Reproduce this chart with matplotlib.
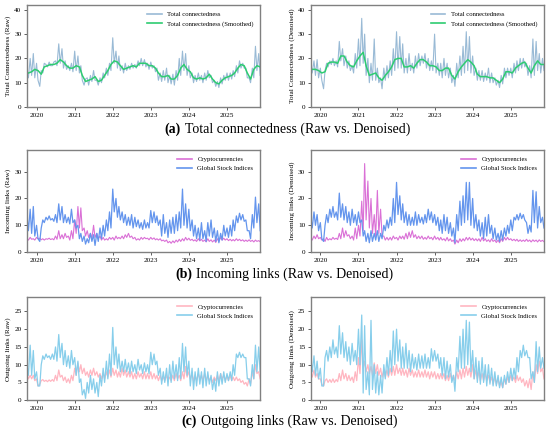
import matplotlib
matplotlib.use("Agg")
import matplotlib.pyplot as plt
import matplotlib.dates as mdates
import pandas as pd
from matplotlib.offsetbox import TextArea, HPacker, AnnotationBbox

plt.rcParams['font.family'] = ['Liberation Serif', 'DejaVu Serif']

# two readings per month (1st / 15th), Oct 2019 .. Nov 2025
half_month = pd.date_range('2019-10-01', periods=148, freq='SMS')
# smoothed curves read once per month
month_mid = pd.date_range('2019-10-01', periods=74, freq='MS') + pd.Timedelta(days=14)

# (a) total connectedness
total_raw = [16, 12, 20, 13, 22, 12, 18, 11, 8.5, 15, 14, 18,
             17.5, 16.5, 18.5, 17, 17, 18.5, 19, 17, 26, 18, 24, 16,
             19, 15.5, 17, 15, 18, 14.5, 23, 15, 21, 14, 17, 11,
             9, 11.5, 12, 9, 13, 10.5, 15, 11, 11, 9, 12, 10,
             14, 12, 16, 13, 18, 15, 28.5, 18, 23, 16, 21, 15,
             17, 14, 18, 15, 17, 15.5, 18, 16, 17.5, 16, 19, 17,
             20, 17, 19.5, 16.5, 18, 15.5, 18.5, 16, 17, 14.5, 16, 11,
             14, 10.5, 15, 11, 16, 10, 13, 9.5, 13.5, 9, 15, 11,
             20, 13, 23, 15, 22, 13, 17, 12, 14, 10, 13, 10.5,
             14, 11, 13, 10, 14, 11, 15, 12, 13, 10, 11, 8.5,
             10.5, 8, 12, 9.5, 13, 11, 14, 11, 14, 11.5, 15, 12.5,
             17, 14, 19, 16, 18, 16, 16, 12, 12, 10, 16, 12,
             25, 15, 22, 13]
total_raw_smooth = [14, 14.5, 15.5, 15, 13.5, 16.5, 17, 17.5, 17.5, 18, 19.5, 18.5,
                    17, 16, 16, 17, 16.5, 13, 10.5, 11, 11.5, 12.5, 10.5, 11,
                    13, 15, 17.5, 19, 18.5, 17, 15.5, 16, 16.5, 17, 16.5, 18,
                    18, 18, 17, 17, 16, 14, 12.5, 12.5, 13, 11.5, 11.5, 13,
                    16, 17.5, 15.5, 14.5, 12, 11.5, 12, 11.5, 12, 13.5, 11.5, 10,
                    9.5, 11, 12, 12.5, 13, 14, 16, 17.5, 17, 14, 11.5, 15.5,
                    17, 16.5]
total_den = [17, 14, 19, 13, 19.5, 12, 16, 11, 7.5, 15, 18, 16.5,
             19, 17.5, 20, 17, 19, 16.5, 27, 19, 24, 17, 21, 16,
             19, 15, 17, 14, 22, 16, 28, 17, 36.5, 18, 30, 13,
             20, 10, 18, 11, 28, 11, 16, 10, 12, 7.5, 16, 11,
             17, 12, 19, 13, 24, 15, 31, 16, 29, 16, 26, 14,
             20, 14, 22, 15, 18, 14, 21, 16, 22, 17, 21, 18,
             22, 16, 20, 15, 19, 15, 30, 14, 18, 13, 18, 12,
             20, 13, 18, 12, 16, 10, 13, 8.5, 18, 12, 21, 13,
             25, 14, 31, 15, 29, 14, 21, 13, 16, 11, 15, 11,
             15, 10.5, 14, 11, 16, 10, 14, 10, 12, 9, 11, 8,
             13, 9.5, 16, 12, 16, 13, 16, 12, 18, 14, 19, 15,
             20, 16, 20, 16.5, 18, 13, 17, 12, 28, 13, 27, 15,
             22, 14, 20, 15]
total_den_smooth = [15.5, 15.5, 15, 14, 14.5, 18, 18.5, 18.5, 18, 21, 21, 18.5,
                    17, 16.5, 19, 21, 22.5, 17, 13, 13.5, 14, 12, 11, 13,
                    14.5, 16.5, 19.5, 20, 20, 16.5, 16.5, 17, 16, 18, 19.5, 19.5,
                    18.5, 17, 17, 16.5, 15, 15, 16, 16, 13, 11.5, 14.5, 16.5,
                    18, 19.5, 18.5, 17, 13.5, 12.5, 12.5, 12.5, 12, 12, 11, 10,
                    11.5, 14.5, 14.5, 14, 16, 17, 18, 18.5, 16, 14, 17, 19,
                    17.5, 17.5]

# (b) incoming links
in_crypto_raw = [5, 4.5, 5.5, 4.8, 5, 4.5, 5.5, 5, 5.2, 4.6, 5, 4.5,
                 5, 4.8, 5.2, 4.7, 5, 4.6, 6, 4.8, 8, 5, 6.5, 5,
                 7, 5.5, 6, 4.5, 8, 5, 12, 7, 17, 9, 16.5, 8,
                 9, 6, 8, 5.5, 7, 5, 10, 5.5, 7, 5, 6, 4.5,
                 5.5, 4.5, 5, 4.5, 5.5, 4.8, 5.5, 4.5, 6, 5, 5.5, 5,
                 6, 5, 6.5, 5.5, 7, 5.5, 6, 5, 5.5, 4.5, 5, 4.5,
                 5.5, 4.8, 5.5, 5, 5.2, 4.6, 5.5, 4.8, 5.3, 4.6, 5, 4.5,
                 5, 4.2, 4.5, 4, 4.5, 3.5, 4, 3.3, 4.2, 3.5, 4.5, 3.8,
                 4.8, 4, 5, 4.2, 5.5, 4.5, 5.2, 4.4, 4.8, 4.2, 4.6, 4,
                 5, 4.2, 4.8, 4, 4.5, 3.8, 5, 4, 4.6, 3.8, 4.5, 3.6,
                 5, 4, 5.5, 4.5, 5.2, 4.5, 5, 4.3, 4.8, 4.2, 4.7, 4.2,
                 5, 4.3, 4.8, 4.2, 4.6, 4, 4.5, 4, 4.6, 4, 4.4, 3.8,
                 4.5, 4, 4.3, 3.9]
in_stock_raw = [14, 8, 16, 7, 17, 6, 10, 5, 4, 9, 12, 11,
                13, 12, 13.5, 12, 12.5, 11.5, 14, 11, 18, 12, 17, 11,
                14, 11, 13, 10.5, 16, 11, 12, 9, 10, 5, 7, 4,
                6, 3, 5, 3.5, 7, 4, 6.5, 2.5, 7, 4, 9, 5,
                10, 6, 12, 8, 15, 9, 23.5, 15, 20, 13, 17, 12,
                15, 11, 14, 10, 13, 10, 14, 9, 13, 9.5, 12, 9,
                11, 8.5, 12, 9, 11, 9, 15.5, 11, 15, 11, 13.5, 10,
                12, 6, 14, 7, 11, 5.5, 12, 7, 13, 7, 14, 8,
                15, 9, 23.5, 10, 18, 9, 16, 8, 12, 6, 10, 5,
                9, 4.5, 11, 5, 8, 4, 11, 6, 12, 5.5, 9, 4,
                8, 3.5, 7, 4.5, 10, 6, 9, 5.5, 10, 6, 12, 8,
                13.5, 11, 14.5, 12, 14, 11.5, 12, 8, 8, 5, 14, 9,
                20.5, 11, 18, 8]
in_crypto_den = [5.5, 4.5, 6, 5, 6.5, 5, 5.5, 4.5, 5, 4, 5.5, 4.5,
                 5, 4.6, 5.5, 4.8, 5.2, 4.7, 7, 5, 9, 5.5, 8, 6,
                 6.5, 5, 6, 4.5, 9, 5, 10, 6, 19, 8, 33, 12,
                 26.5, 9, 20, 7, 14, 6, 23, 7, 16, 6, 6, 4.5,
                 5.5, 4.5, 5.5, 4.5, 6, 5, 5.5, 4.5, 6, 5, 6, 4.8,
                 7, 5, 7.5, 5.5, 8, 5.5, 6.5, 5, 6, 5, 6, 4.8,
                 5.5, 4.8, 6, 5, 5.5, 4.6, 6, 4.8, 5.5, 4.5, 5.5, 4.5,
                 5, 4.2, 5.5, 4.2, 5, 4, 4.5, 3, 4.5, 3.5, 5, 4,
                 5, 4.2, 5.5, 4.5, 5.5, 4.5, 5.2, 4.3, 5, 4.2, 5, 4,
                 5.5, 4.2, 5, 4, 4.6, 3.8, 5, 4, 4.5, 3.6, 4.5, 3.5,
                 5, 4, 5.5, 4.5, 5.5, 4.6, 5, 4.3, 4.8, 4.2, 4.8, 4,
                 4.6, 4, 4.5, 4, 4.8, 4, 4.5, 3.8, 4.6, 4, 4.5, 3.8,
                 4.6, 4, 4.4, 3.9]
in_stock_den = [13, 9, 15, 10, 14, 8, 11, 5, 4, 10, 14, 11,
                16, 13, 17, 13, 15, 12, 22, 13, 18, 12, 17, 11,
                15, 10, 16, 11, 14, 10, 15, 11, 12, 6, 8, 4,
                7, 3.5, 8, 4, 7, 4.5, 8, 4, 7, 5, 10, 8,
                12, 9, 13, 10, 20, 11, 26, 14, 21, 12, 18, 11,
                15, 10, 14, 10, 13, 10, 15, 10, 14, 11, 13, 10.5,
                14, 11, 16, 12, 15, 11, 14, 10, 13, 8, 12, 7,
                14, 8, 13, 7, 11, 6, 9, 3.5, 14, 8, 19, 10,
                21, 11, 26, 12, 26, 10, 20, 9, 14, 8, 12, 6,
                11, 5, 13, 6, 14, 7, 10, 5, 9, 4.5, 7, 4,
                8, 4.5, 9, 6, 10, 7, 12, 8, 13, 12, 14, 12,
                14.5, 12.5, 14, 12, 11, 7, 10, 7.5, 23, 11, 22.5, 9,
                17, 11, 13, 9]

# (c) outgoing links
out_crypto_raw = [7.5, 6, 7, 6, 7, 5.5, 6, 4, 4.5, 5.5, 5.8, 5.3,
                  5.6, 5.2, 5.7, 5.3, 5.8, 5.3, 7, 5.5, 8.5, 6.5, 7, 5.5,
                  6.5, 5, 6, 4.8, 7, 5.5, 9, 7, 10.5, 8, 10, 7.5,
                  9, 7, 8, 6.5, 8.5, 7, 9, 7, 8, 6.5, 7.5, 6,
                  7.5, 6, 8, 6.5, 8.5, 6.5, 9, 7, 8.5, 6.5, 8, 6.5,
                  9, 7, 8.5, 6.5, 8, 6.5, 8, 6, 7.5, 6, 8, 6.5,
                  7.5, 6, 8, 6, 7.5, 6, 8, 6, 7.5, 6, 7, 5.5,
                  7, 5.5, 6.5, 5.5, 7, 5.5, 6.5, 5.5, 7, 5.5, 7.5, 6,
                  7, 5.5, 8, 6, 9.5, 6.5, 8, 6, 7.5, 5.5, 7, 5.5,
                  7.5, 6, 7, 5.5, 7.5, 5.5, 7, 5.5, 6.5, 5, 6.5, 5.5,
                  7, 5.5, 7.5, 6, 7, 5.5, 7, 5.5, 7, 5.5, 6.5, 5.5,
                  6.5, 5.5, 6, 5, 5.5, 4.5, 5, 4, 6, 4.5, 8, 6,
                  10, 7.5, 8, 6]
out_stock_raw = [10, 7, 15.5, 7, 14, 6, 8, 4, 4, 10, 12.5, 11.5,
                 13, 12, 12.5, 11.5, 13, 11.5, 15, 11, 18.5, 12, 16, 10,
                 14, 9.5, 12.5, 9, 14, 10, 12, 7, 11, 5, 6, 1.5,
                 3, 0.5, 5, 2, 7, 3, 6, 2, 5, 1, 7, 4,
                 9, 5, 11, 6, 13, 7, 20.5, 10, 15, 9, 13, 8,
                 11, 8, 11.5, 8, 10.5, 7.5, 11, 8, 10, 7.5, 11.5, 8.5,
                 10, 7.5, 10.5, 8, 10, 7.5, 13.5, 10, 13, 10, 11, 7,
                 9, 4.5, 8, 5, 9, 4, 10, 5, 11, 6, 10, 5.5,
                 12, 6, 16, 8, 15, 7, 11, 4, 9, 3, 8, 4,
                 9, 4.5, 8, 3.5, 9, 4, 8, 4.5, 7, 3, 6, 2.5,
                 8, 4, 7.5, 4.5, 8, 5, 7.5, 5.5, 8, 5.5, 10, 7,
                 13, 12, 13.5, 12, 13, 12, 12, 6, 6, 4, 10, 6,
                 15.5, 8, 15, 8]
out_crypto_den = [8, 6.5, 8.5, 6.5, 7.5, 6, 6, 4.5, 4, 5.5, 6, 5,
                  5.8, 5, 6, 5, 5.8, 5.2, 7.5, 5.5, 8.5, 6, 7.5, 5.5,
                  7, 5.5, 6.5, 5, 8, 5.5, 12, 7.5, 17, 9, 11, 8,
                  10, 7.5, 9.5, 7, 10.5, 7.5, 10, 7, 9, 6.5, 8.5, 6.5,
                  8.5, 6.5, 9, 7, 9.5, 7, 10, 7.5, 9, 7, 9, 7,
                  8.5, 6.5, 9, 7, 8.5, 6.5, 8, 6.5, 8.5, 6.5, 8, 6.5,
                  8.5, 6.5, 8, 6, 8, 6.5, 8, 6, 7.5, 6, 7.5, 6,
                  7.5, 5.5, 7, 5.5, 7.5, 5.5, 7, 5.5, 8, 6, 8.5, 6,
                  9, 6.5, 9.5, 7, 9, 6.5, 10, 6, 8.5, 6, 8, 5.5,
                  7.5, 5.5, 7.5, 5.5, 7, 5, 6.5, 4.5, 6.5, 4.5, 6, 4,
                  5, 3.5, 6, 4.5, 6.5, 5, 7, 5.5, 6.5, 5, 7, 5.5,
                  6.5, 5, 6, 4, 5.5, 3.5, 6, 3, 8, 5, 10, 7.5,
                  11, 8, 9, 6]
out_stock_den = [12, 8, 12.5, 7, 11, 6, 9, 4, 4, 12, 14, 11,
                 15, 12, 17, 13, 15, 12, 21, 13, 19, 12, 16.5, 11,
                 15, 10, 16, 11, 14, 10, 20, 10, 24, 2, 21, 3,
                 8, 1.5, 22.5, 3, 10, 2, 8, 1.5, 7, 2, 10, 6,
                 12, 7, 14, 8, 19.5, 10, 20, 11, 17, 9, 15, 9,
                 16, 9, 14, 8, 13, 9, 12, 8.5, 13, 9, 12.5, 9,
                 13, 9, 12, 9, 14.5, 11, 14, 11, 13, 9, 12, 7,
                 12, 6, 11, 6.5, 10, 5, 7, 2.5, 12, 8, 18, 9,
                 20, 9, 22.5, 10, 22, 8, 14, 6, 12, 5, 11, 4.5,
                 12, 5, 10, 4, 10, 4.5, 9, 4, 8, 4, 7, 3.5,
                 6.5, 3.5, 7, 4.5, 8, 5, 9, 5.5, 9, 6, 12, 8,
                 14, 12, 15.5, 12.5, 14, 12, 12, 6, 8, 5, 16.5, 8,
                 15, 9, 12, 9]


def style_axes(ax, ylabel, ymax, yticks):
    ax.set_xlim(half_month[0], half_month[-1])
    ax.set_ylim(0, ymax)
    ax.set_yticks(yticks)
    ax.xaxis.set_major_locator(mdates.YearLocator())
    ax.xaxis.set_major_formatter(mdates.DateFormatter('%Y'))
    ax.set_ylabel(ylabel, fontsize=5.2, labelpad=2)
    ax.tick_params(labelsize=5.2, length=2.5, width=0.6, pad=1.5, color='#444444')
    for s in ax.spines.values():
        s.set_color('#808080')
        s.set_linewidth(1.0)
    leg = ax.legend(loc='upper right', frameon=False, fontsize=4.8, handlelength=2.2,
                    borderaxespad=0.6, labelspacing=0.5)
    for h in leg.get_lines():
        h.set_linewidth(1.2)


def caption(fig, y, x, label, text):
    box = HPacker(children=[TextArea(label, textprops=dict(fontsize=10, fontweight='bold')),
                            TextArea(text, textprops=dict(fontsize=10))],
                  pad=0, sep=3, align='baseline')
    ab = AnnotationBbox(box, (x, y), xycoords='figure fraction', frameon=False,
                        box_alignment=(0.5, 0.5))
    fig.add_artist(ab)


fig = plt.figure(figsize=(5.5, 4.34), dpi=100)

cols = [0.049, 0.565]
rows = [(0.7535, 0.235), (0.419, 0.235), (0.078, 0.237)]

# row a
for c, raw, smooth, name in [(0, total_raw, total_raw_smooth, 'Raw'),
                             (1, total_den, total_den_smooth, 'Denoised')]:
    ax = fig.add_axes([cols[c], rows[0][0], 0.424, rows[0][1]])
    ax.plot(half_month, raw, color='steelblue', alpha=0.55, lw=0.8, label='Total connectedness')
    ax.plot(month_mid, smooth, color='#2ecc71', lw=1.1, label='Total connectedness (Smoothed)')
    style_axes(ax, 'Total Connectedness (%s)' % name, 42, [0, 10, 20, 30, 40])

# row b
for c, cr, st, name in [(0, in_crypto_raw, in_stock_raw, 'Raw'),
                        (1, in_crypto_den, in_stock_den, 'Denoised')]:
    ax = fig.add_axes([cols[c], rows[1][0], 0.424, rows[1][1]])
    ax.plot(half_month, cr, color='orchid', lw=0.8, label='Cryptocurrencies')
    ax.plot(half_month, st, color='cornflowerblue', lw=0.9, label='Global Stock Indices')
    style_axes(ax, 'Incoming links (%s)' % name, 38, [0, 10, 20, 30])

# row c
for c, cr, st, name in [(0, out_crypto_raw, out_stock_raw, 'Raw'),
                        (1, out_crypto_den, out_stock_den, 'Denoised')]:
    ax = fig.add_axes([cols[c], rows[2][0], 0.424, rows[2][1]])
    ax.plot(half_month, cr, color='lightpink', lw=0.9, label='Cryptocurrencies')
    ax.plot(half_month, st, color='skyblue', lw=0.9, label='Global Stock Indices')
    style_axes(ax, 'Outgoing links (%s)' % name, 29, [0, 5, 10, 15, 20, 25])

caption(fig, 0.703, 0.523, '(a)', 'Total connectedness (Raw vs. Denoised)')
caption(fig, 0.369, 0.517, '(b)', 'Incoming links (Raw vs. Denoised)')
caption(fig, 0.030, 0.527, '(c)', 'Outgoing links (Raw vs. Denoised)')

fig.savefig('out.png', dpi=100)
